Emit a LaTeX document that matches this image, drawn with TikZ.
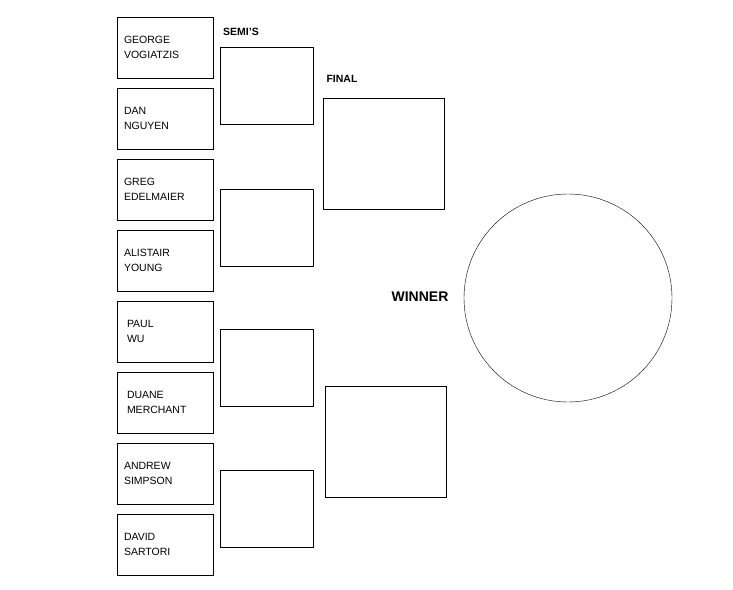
\documentclass[tikz,border=0pt]{standalone}
\usepackage{fontspec}
\setmainfont{Liberation Sans}
\tikzstyle{player} = [rectangle, draw, minimum width=96pt, minimum height=61pt,
    text width=82pt, align=left, font=\fontsize{10.5}{15}\selectfont]
\tikzstyle{semi} = [rectangle, draw, minimum width=93pt, minimum height=77pt]
\tikzstyle{final} = [rectangle, draw, minimum width=121pt, minimum height=111pt]
\tikzstyle{heading} = [font=\bfseries\fontsize{10.5}{12}\selectfont]

\begin{document}
\begin{tikzpicture}[x=1pt, y=-1pt]
    \useasboundingbox (0,0) rectangle (733,589);
    % Place players
    \node [player] (p1) at (165,47.5) {GEORGE\\VOGIATZIS\\[6pt]};
    \node [player] (p2) at (165,118.5) {DAN\\NGUYEN\\[6pt]};
    \node [player] (p3) at (165,189.5) {GREG\\EDELMAIER\\[6pt]};
    \node [player] (p4) at (165,260.5) {ALISTAIR\\YOUNG\\[6pt]};
    \node [player] (p5) at (165,331.5) {\hspace*{3pt}PAUL\\\hspace*{3pt}WU\\[6pt]};
    \node [player] (p6) at (165,402.5) {\hspace*{3pt}DUANE\\\hspace*{3pt}MERCHANT\\[6pt]};
    \node [player] (p7) at (165,473.5) {ANDREW\\SIMPSON\\[6pt]};
    \node [player] (p8) at (165,544.5) {DAVID\\SARTORI\\[6pt]};

    % Semis
    \node [semi] (s1) at (266.5,85.5) {};
    \node [semi] (s2) at (266.5,227.5) {};
    \node [semi] (s3) at (266.5,367.5) {};
    \node [semi] (s4) at (266.5,508.5) {};
    \node [heading] (semis) at (241,32) {SEMI'S};

    % Finals
    \node [final] (f1) at (383.5,153.5) {};
    \node [final] (f2) at (385.5,441.5) {};
    \node [heading] (finals) at (342,79) {FINAL};

    % Winner
    \node [draw, circle, minimum size=208pt] (w) at (568,298) {};
    \node [font=\bfseries\fontsize{14}{16}\selectfont] (winner) at (420,297) {WINNER};
\end{tikzpicture}
\end{document}
